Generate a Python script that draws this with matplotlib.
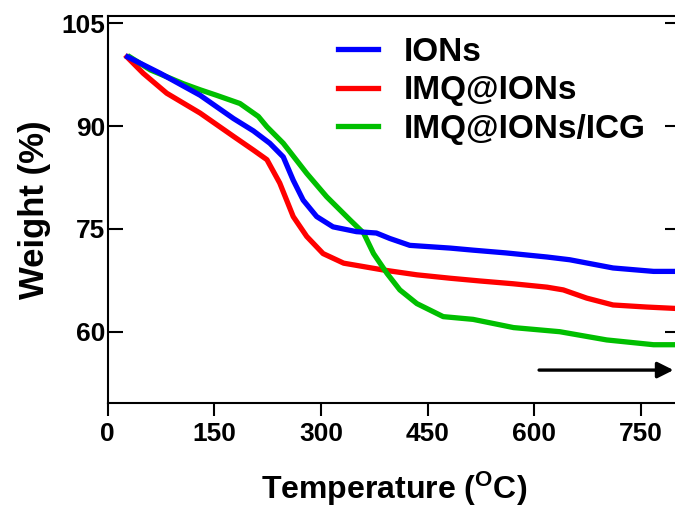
import matplotlib
matplotlib.use("Agg")
import matplotlib.pyplot as plt

plt.rcParams['font.family'] = ['Liberation Sans', 'DejaVu Sans']
plt.rcParams['font.weight'] = 'bold'
plt.rcParams['mathtext.fontset'] = 'custom'
plt.rcParams['mathtext.rm'] = 'Liberation Sans:bold'
plt.rcParams['mathtext.default'] = 'rm'

# TGA curves (temperature in C, weight in %)
t_ions = [28, 74, 130, 177, 205, 228, 247, 261, 275, 294, 317, 350, 378,
          397, 425, 482, 514, 560, 618, 650, 711, 768, 798]
w_ions = [100.1, 97.7, 94.5, 91.1, 89.3, 87.5, 85.5, 82.1, 79.2, 76.8, 75.3,
          74.6, 74.4, 73.6, 72.6, 72.2, 71.9, 71.5, 70.9, 70.5, 69.3, 68.8, 68.8]

t_imq = [27, 50, 83, 130, 177, 205, 224, 242, 261, 280, 303, 332, 388,
         435, 482, 524, 570, 618, 641, 674, 711, 758, 798]
w_imq = [100.1, 97.7, 94.8, 91.9, 88.5, 86.5, 85.1, 81.7, 76.8, 73.9, 71.4,
         70.0, 69.0, 68.3, 67.8, 67.4, 67.0, 66.5, 66.1, 64.9, 63.9, 63.6, 63.4]

t_icg = [31, 60, 106, 130, 153, 186, 212, 224, 247, 280, 308, 341, 360,
         374, 393, 411, 435, 472, 514, 571, 636, 702, 768, 798]
w_icg = [100.1, 98.2, 96.2, 95.3, 94.5, 93.3, 91.4, 89.9, 87.5, 83.1, 79.7,
         76.3, 74.4, 71.4, 68.5, 66.1, 64.1, 62.2, 61.8, 60.6, 60.0, 58.8,
         58.1, 58.1]

labels = ['IONs', 'IMQ@IONs', 'IMQ@IONs/ICG']
colors = ['#0000FF', '#FF0000', '#00BF00']

x_ticks = [0, 150, 300, 450, 600, 750]
y_ticks = [60, 75, 90, 105]

fig = plt.figure(figsize=(6.75, 5.09), dpi=100)
ax = fig.add_axes([0.1596, 0.2083, 0.8476, 0.7603])

ax.plot(t_ions, w_ions, color=colors[0], lw=3.8, label=labels[0], zorder=3)
ax.plot(t_imq, w_imq, color=colors[1], lw=3.8, label=labels[1], zorder=2)
ax.plot(t_icg, w_icg, color=colors[2], lw=3.8, label=labels[2], zorder=2)

# arrow pointing to high temperature
ax.annotate('', xy=(800, 54.4), xytext=(603, 54.4),
            arrowprops=dict(arrowstyle='-|>', color='black', lw=2.4,
                            mutation_scale=24))

ax.set_xlim(0, 805)
ax.set_ylim(49.6, 106.07)
ax.set_xticks(x_ticks)
ax.set_yticks(y_ticks)

for s in ax.spines.values():
    s.set_linewidth(1.5)

ax.tick_params(axis='x', direction='out', length=9.5, width=1.5,
               labelsize=19, pad=4, top=False)
ax.tick_params(axis='y', direction='in', length=11, width=1.5,
               labelsize=19, pad=2, right=True)

ax.set_xlabel(r'Temperature ($^{\rm O}$C)', fontsize=23, fontweight='bold',
              labelpad=17)
ax.set_ylabel('Weight (%)', fontsize=25, fontweight='bold', labelpad=7)

ax.legend(loc='upper left', bbox_to_anchor=(0.38, 0.98), frameon=False,
          fontsize=24, handlelength=1.2, handletextpad=0.75,
          labelspacing=0.22, borderaxespad=0)

fig.savefig('out.png', dpi=100)
